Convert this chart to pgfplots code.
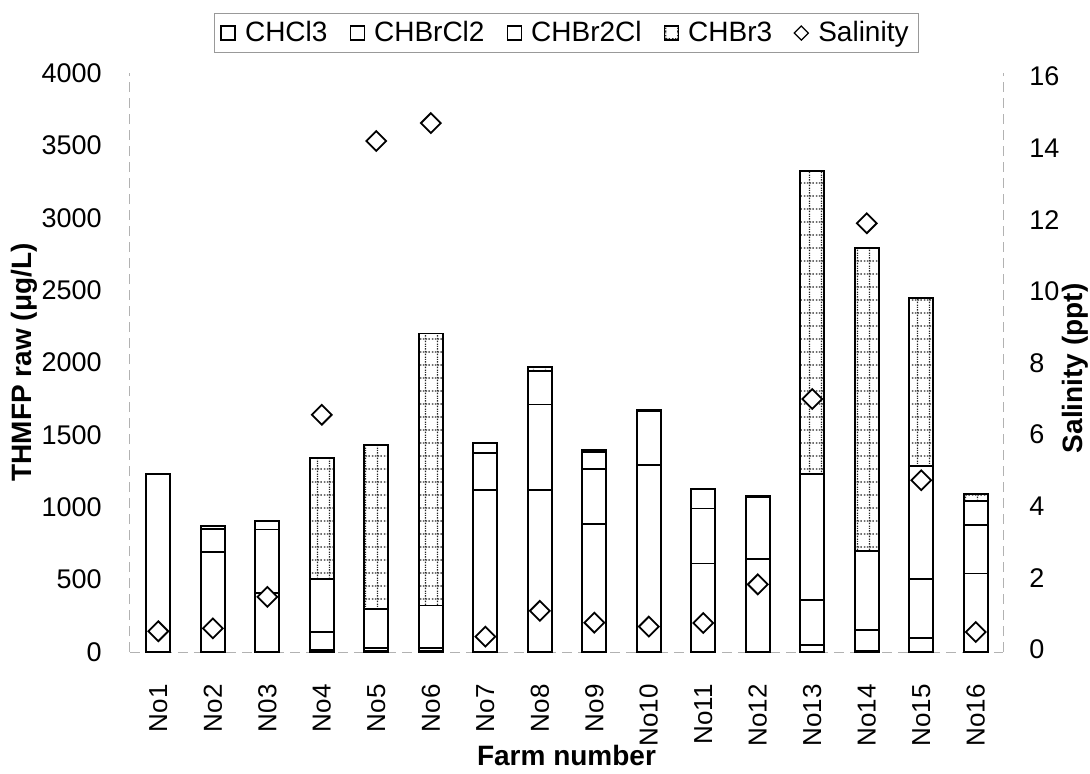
\documentclass[border=0pt]{standalone}
\usepackage{fontspec}
\setmainfont{Liberation Sans}
\usepackage{pgfplots}
\pgfplotsset{compat=1.18}
\usetikzlibrary{patterns.meta}
\tikzdeclarepattern{
  name=dotgrid,
  type=uncolored,
  bottom left={(0pt,0pt)},
  top right={(6pt,6.5pt)},
  tile size={(6pt,6.5pt)},
  code={
    \draw[line width=0.7pt, dash pattern=on 0.8pt off 0.7pt] (0pt,3.25pt) -- (6pt,3.25pt);
    \draw[line width=0.7pt, dash pattern=on 0.8pt off 0.7pt] (3pt,0pt) -- (3pt,6.5pt);
  }
}
\newcommand{\tickfont}{\fontsize{13}{16}\selectfont}
\newcommand{\labfont}{\bfseries\fontsize{14}{16}\selectfont}
\begin{document}
\begin{tikzpicture}
\path[use as bounding box] (-65pt,-60.5pt) rectangle (480pt,326pt);
\begin{axis}[
  at={(0,0)}, anchor=south west, scale only axis,
  width=436.5pt, height=289.5pt,
  xmin=-0.52, xmax=15.5, ymin=0, ymax=4000,
  ybar stacked, bar width=12pt,
  axis x line*=bottom, axis y line*=left,
  axis line style={-, draw=black!30, dash pattern=on 5pt off 3pt, line width=0.5pt},
  xtick={0,1,...,15},
  xticklabels={No1,No2,N03,No4,No5,No6,No7,No8,No9,No10,No11,No12,No13,No14,No15,No16},
  ytick={0,500,...,4000},
  major tick length=0pt,
  /pgf/number format/assume math mode=true,
  /pgf/number format/1000 sep={},
  tick label style={font=\tickfont},
  xticklabel style={yshift=-16pt, rotate=90, anchor=east, inner sep=0pt},
  yticklabel style={inner sep=0pt, xshift=-14pt, anchor=east, font=\fontsize{13.5}{16}\selectfont},
  ylabel={THMFP raw (μg/L)},
  ylabel style={at={(axis description cs:-0.121,0.5)}, anchor=center, font=\labfont},
  xlabel={Farm number},
  xlabel style={at={(axis description cs:0.5,0)}, anchor=north, yshift=-46.5pt, inner sep=0pt, font=\labfont},
]
% CHCl3
\addplot[draw=black, fill=white, line width=0.9pt] coordinates {
(0,1230) (1,692) (2,409) (3,12) (4,5) (5,5) (6,1117) (7,1117)
(8,883) (9,1294) (10,612) (11,641) (12,48) (13,10) (14,99) (15,543)};
% CHBrCl2
\addplot[draw=black, fill=white, line width=0.9pt] coordinates {
(0,0) (1,156) (2,437) (3,124) (4,25) (5,25) (6,258) (7,593)
(8,384) (9,370) (10,379) (11,430) (12,311) (13,142) (14,404) (15,333)};
% CHBr2Cl
\addplot[draw=black, fill=white, line width=0.9pt] coordinates {
(0,0) (1,23) (2,60) (3,367) (4,269) (5,292) (6,68) (7,230)
(8,113) (9,12) (10,133) (11,7) (12,873) (13,547) (14,780) (15,167)};
% CHBr3
\addplot[draw=black, preaction={fill=white}, pattern=dotgrid, pattern color=black!85, line width=0.9pt] coordinates {
(0,0) (1,0) (2,0) (3,840) (4,1129) (5,1878) (6,0) (7,28)
(8,13) (9,0) (10,0) (11,0) (12,2092) (13,2092) (14,1161) (15,51)};
\end{axis}
\begin{axis}[
  at={(0,0)}, anchor=south west, scale only axis,
  width=436.5pt, height=289.5pt,
  xmin=-0.52, xmax=15.5, ymin=-0.08, ymax=16.1,
  axis x line=none, axis y line*=right,
  axis line style={-, draw=black!30, dash pattern=on 5pt off 3pt, line width=0.5pt},
  ytick={0,2,...,16},
  major tick length=0pt,
  /pgf/number format/assume math mode=true,
  tick label style={font=\fontsize{13.5}{16}\selectfont},
  yticklabel style={inner sep=0pt, xshift=13pt, anchor=west},
  ylabel={Salinity (ppt)},
  ylabel style={at={(axis description cs:1.0825,0.49)}, anchor=center, font=\labfont},
  legend columns=-1,
  legend style={at={(axis description cs:0.5,1.069)}, anchor=center,
    draw=black!40, line width=0.4pt, font=\fontsize{14}{16}\selectfont,
    inner xsep=3pt, inner ysep=2pt,
    /tikz/every even column/.append style={column sep=9pt}},
]
\addlegendimage{legend image code/.code={\draw[black, fill=white, line width=0.6pt] (0pt,-3.5pt) rectangle (7pt,3.5pt); \path[draw=none, fill=none] (0pt,0pt) -- (10pt,0pt);}}
\addlegendimage{legend image code/.code={\draw[black, fill=white, line width=0.6pt] (0pt,-3.5pt) rectangle (7pt,3.5pt); \path[draw=none, fill=none] (0pt,0pt) -- (10pt,0pt);}}
\addlegendimage{legend image code/.code={\draw[black, fill=white, line width=0.6pt] (0pt,-3.5pt) rectangle (7pt,3.5pt); \path[draw=none, fill=none] (0pt,0pt) -- (10pt,0pt);}}
\addlegendimage{legend image code/.code={\draw[black, preaction={fill=white}, pattern=dotgrid, pattern color=black!85, line width=0.6pt] (0pt,-3.5pt) rectangle (7pt,3.5pt); \path[draw=none, fill=none] (0pt,0pt) -- (10pt,0pt);}}
\addplot[only marks, mark=square*, mark size=3.5pt,
  mark options={rotate=45, fill=white, draw=black, line width=0.9pt},
  legend image code/.code={\draw[mark=square*, mark size=2.5pt, mark options={rotate=45, fill=white, draw=black, line width=0.6pt}] plot coordinates {(3.5pt,0pt)}; \path[draw=none, fill=none] (0pt,0pt) -- (10pt,0pt);}]
coordinates {
(0,0.5) (1,0.58) (2,1.46) (3,6.55) (4,14.2) (5,14.7) (6,0.35) (7,1.07)
(8,0.74) (9,0.63) (10,0.73) (11,1.81) (12,6.99) (13,11.9) (14,4.72) (15,0.48)};
\legend{CHCl3,CHBrCl2,CHBr2Cl,CHBr3,Salinity}
\end{axis}
\end{tikzpicture}
\end{document}
